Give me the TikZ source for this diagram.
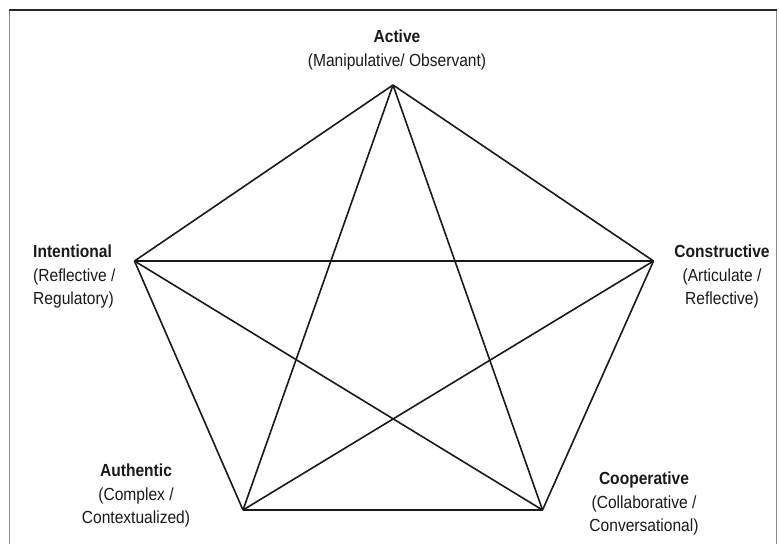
\documentclass[tikz,border=0pt]{standalone}
\usepackage{fontspec}
\setmainfont[FakeStretch=0.89]{Liberation Sans}
\begin{document}
\begin{tikzpicture}[x=1pt,y=-1pt,
  edge/.style={line width=1.6pt,draw=black!90,line join=round},
  lbl/.style={align=center,inner sep=0pt,font=\fontsize{17.5}{23.3}\selectfont,text=black!90},
  frame/.style={line width=1.2pt}]
\useasboundingbox (0,0) rectangle (779,544);
% frame
\draw[frame,draw=black!85] (9.5,544) -- (9.5,10) -- (776.5,10) -- (776.5,544);
\draw[frame,draw=black!45] (9.5,544) -- (9.5,11);
\draw[frame,draw=black!45] (776.5,11) -- (776.5,544);
% vertices
\coordinate (A) at (393,85);
\coordinate (I) at (134.5,261);
\coordinate (C) at (653.5,261);
\coordinate (U) at (243,510);
\coordinate (O) at (542.5,510);
% pentagon
\draw[edge] (A) -- (C);
\draw[edge] (C) -- (O);
\draw[edge] (O) -- (U);
\draw[edge] (U) -- (I);
\draw[edge] (I) -- (A);
% diagonals
\draw[edge] (A) -- (U);
\draw[edge] (A) -- (O);
\draw[edge] (I) -- (C);
\draw[edge] (I) -- (O);
\draw[edge] (C) -- (U);
% labels
\node[lbl] (tA) at (397,50) {\textbf{Active}\\(Manipulative/ Observant)};
\node[lbl,align=left,anchor=west] (tI) at (33,276.5) {\textbf{Intentional}\\(Reflective /\\Regulatory)};
\node[lbl] (tC) at (722,276.5) {\textbf{Constructive}\\(Articulate /\\Reflective)};
\node[lbl] (tU) at (136,495.5) {\textbf{Authentic}\\(Complex /\\Contextualized)};
\node[lbl] (tO) at (644,503.5) {\textbf{Cooperative}\\(Collaborative /\\Conversational)};
\end{tikzpicture}
\end{document}
